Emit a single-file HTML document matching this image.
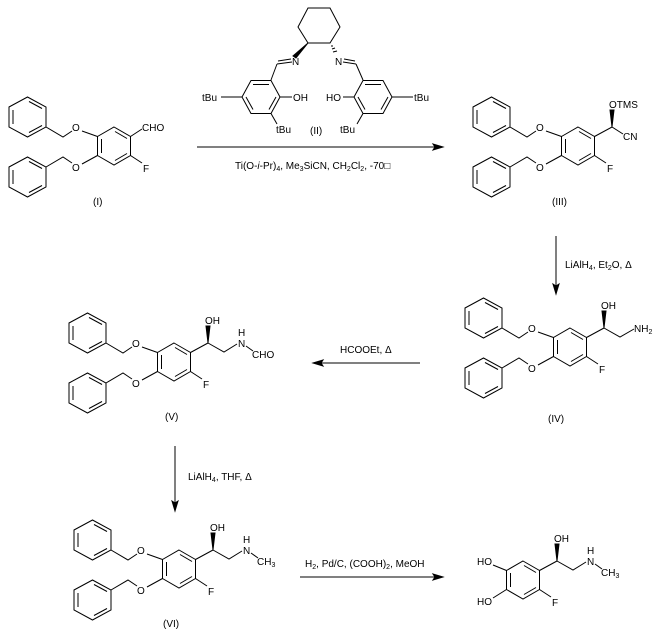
<!DOCTYPE html>
<html><head><meta charset="utf-8"><style>
html,body{margin:0;padding:0;background:#fff;}
svg{display:block;}
text{font-family:"Liberation Sans",Arial,sans-serif;font-size:10px;fill:#000;}
.s{font-size:7px;}
</style></head><body>
<svg width="656" height="633" viewBox="0 0 656 633" xmlns="http://www.w3.org/2000/svg">
<g stroke="#000" stroke-width="1" fill="none">

<!-- Compound I -->
<g transform="translate(0,0)">
<g stroke="#000" fill="none">
<polygon points="9,107 27.5,97 46,107 46,127 27.5,137 9,127"/>
<line x1="13" y1="110" x2="13" y2="124"/><line x1="29" y1="101.5" x2="42" y2="108.5"/><line x1="42" y1="125.5" x2="29" y2="132.5"/>
<polyline points="46,127 63,137 72,131"/>
<polygon points="9,167 27.5,157 46,167 46,187 27.5,197 9,187"/>
<line x1="13" y1="170" x2="13" y2="184"/><line x1="29" y1="161.5" x2="42" y2="168.5"/><line x1="42" y1="185.5" x2="29" y2="192.5"/>
<polyline points="46,167 63,157 72,163"/>
<polygon points="114,127 130.5,136.5 130.5,155.5 114,165 97.5,155.5 97.5,136.5"/>
<line x1="101.5" y1="139" x2="101.5" y2="153"/><line x1="115" y1="131.5" x2="127" y2="138.5"/><line x1="127" y1="153.5" x2="115" y2="160.5"/>
<line x1="82" y1="131" x2="97.5" y2="136.5"/><line x1="82" y1="164" x2="97.5" y2="155.5"/>
<line x1="130.5" y1="155.5" x2="142" y2="163"/>
<line x1="130.5" y1="136.5" x2="142" y2="129"/>
</g>
<g stroke="none"><text x="72" y="131">O</text><text x="72" y="171">O</text><text x="143" y="172">F</text><text x="142" y="131">CHO</text></g>
</g>
<text x="93" y="205" stroke="none">(I)</text>

<!-- Catalyst II -->
<polygon points="308,8 330,8 340,27 330,43 308,43 298,27"/>
<polygon points="308,43 293,56 296,58" fill="#000"/>
<g stroke-width="1">
<line x1="331" y1="46" x2="333" y2="46"/><line x1="332" y1="49" x2="335" y2="48"/><line x1="333" y1="52" x2="337" y2="51"/>
</g>
<line x1="292" y1="62" x2="277" y2="64"/><line x1="291" y1="59" x2="278" y2="61"/>
<line x1="277" y1="64" x2="271" y2="80"/>
<polygon points="242,97 251,80.5 271,80.5 280,97 271,113.5 251,113.5"/>
<line x1="253" y1="84.5" x2="269" y2="84.5"/><line x1="276" y1="97" x2="269" y2="109.5"/><line x1="246" y1="97" x2="253" y2="109.5"/>
<line x1="280" y1="97" x2="292" y2="97"/>
<line x1="242" y1="97" x2="221" y2="97"/>
<line x1="271" y1="113.5" x2="277" y2="124"/>
<line x1="343" y1="62" x2="356" y2="64"/><line x1="344" y1="59" x2="355" y2="61"/>
<line x1="356" y1="64" x2="363" y2="80"/>
<polygon points="354,97 363,80.5 383,80.5 392,97 383,113.5 363,113.5"/>
<line x1="365" y1="84.5" x2="381" y2="84.5"/><line x1="358" y1="97" x2="365" y2="109.5"/><line x1="388" y1="97" x2="381" y2="109.5"/>
<line x1="354" y1="97" x2="343" y2="97"/>
<line x1="392" y1="97" x2="413" y2="97"/>
<line x1="363" y1="113.5" x2="357" y2="124"/>
<g stroke="none">
<text x="292" y="65">N</text><text x="335" y="65">N</text>
<text x="293" y="101">OH</text><text x="326" y="101">HO</text>
<text x="202" y="101">tBu</text><text x="414" y="101">tBu</text>
<text x="276" y="133">tBu</text><text x="340" y="133">tBu</text>
<text x="310" y="134">(II)</text>
</g>

<!-- arrow I->III -->
<line x1="197" y1="147" x2="437" y2="147"/>
<polygon points="443,147 433,144 435,147 433,150" fill="#000"/>
<text x="235" y="169" stroke="none" font-size="9">Ti(O-<tspan font-style="italic">i</tspan>-Pr)<tspan class="s" dy="2">4</tspan><tspan dy="-2">, Me</tspan><tspan class="s" dy="2">3</tspan><tspan dy="-2">SiCN, CH</tspan><tspan class="s" dy="2">2</tspan><tspan dy="-2">Cl</tspan><tspan class="s" dy="2">2</tspan><tspan dy="-2">, -70□</tspan></text>

<!-- Compound III -->
<g transform="translate(464,0)">
<g stroke="#000" fill="none">
<polygon points="9,107 27.5,97 46,107 46,127 27.5,137 9,127"/>
<line x1="13" y1="110" x2="13" y2="124"/><line x1="29" y1="101.5" x2="42" y2="108.5"/><line x1="42" y1="125.5" x2="29" y2="132.5"/>
<polyline points="46,127 63,137 72,131"/>
<polygon points="9,167 27.5,157 46,167 46,187 27.5,197 9,187"/>
<line x1="13" y1="170" x2="13" y2="184"/><line x1="29" y1="161.5" x2="42" y2="168.5"/><line x1="42" y1="185.5" x2="29" y2="192.5"/>
<polyline points="46,167 63,157 72,163"/>
<polygon points="114,127 130.5,136.5 130.5,155.5 114,165 97.5,155.5 97.5,136.5"/>
<line x1="101.5" y1="139" x2="101.5" y2="153"/><line x1="115" y1="131.5" x2="127" y2="138.5"/><line x1="127" y1="153.5" x2="115" y2="160.5"/>
<line x1="82" y1="131" x2="97.5" y2="136.5"/><line x1="82" y1="164" x2="97.5" y2="155.5"/>
<line x1="130.5" y1="155.5" x2="142" y2="163"/>
<line x1="130.5" y1="136.5" x2="148" y2="127"/>
<polygon points="148,127 146,110 150,110" fill="#000"/>
<line x1="148" y1="127" x2="159" y2="134"/>
</g>
<g stroke="none"><text x="72" y="131">O</text><text x="72" y="171">O</text><text x="143" y="172">F</text><text x="145" y="108">OTMS</text><text x="159" y="140">CN</text></g>
</g>
<text x="552" y="205" stroke="none">(III)</text>

<!-- arrow III->IV -->
<line x1="556" y1="236" x2="556" y2="288"/>
<polygon points="556,294 553,284 556,286 559,284" fill="#000"/>
<text x="565" y="268" stroke="none" font-size="9">LiAlH<tspan class="s" dy="2">4</tspan><tspan dy="-2">, Et</tspan><tspan class="s" dy="2">2</tspan><tspan dy="-2">O, Δ</tspan></text>

<!-- Compound IV -->
<g transform="translate(456,201)">
<g stroke="#000" fill="none">
<polygon points="9,107 27.5,97 46,107 46,127 27.5,137 9,127"/>
<line x1="13" y1="110" x2="13" y2="124"/><line x1="29" y1="101.5" x2="42" y2="108.5"/><line x1="42" y1="125.5" x2="29" y2="132.5"/>
<polyline points="46,127 63,137 72,131"/>
<polygon points="9,167 27.5,157 46,167 46,187 27.5,197 9,187"/>
<line x1="13" y1="170" x2="13" y2="184"/><line x1="29" y1="161.5" x2="42" y2="168.5"/><line x1="42" y1="185.5" x2="29" y2="192.5"/>
<polyline points="46,167 63,157 72,163"/>
<polygon points="114,127 130.5,136.5 130.5,155.5 114,165 97.5,155.5 97.5,136.5"/>
<line x1="101.5" y1="139" x2="101.5" y2="153"/><line x1="115" y1="131.5" x2="127" y2="138.5"/><line x1="127" y1="153.5" x2="115" y2="160.5"/>
<line x1="82" y1="131" x2="97.5" y2="136.5"/><line x1="82" y1="164" x2="97.5" y2="155.5"/>
<line x1="130.5" y1="155.5" x2="142" y2="163"/>
<line x1="130.5" y1="136.5" x2="148" y2="127"/>
<polygon points="148,127 146,110 150,110" fill="#000"/>
<polyline points="148,127 164,136 178,128"/>
</g>
<g stroke="none"><text x="72" y="131">O</text><text x="72" y="171">O</text><text x="143" y="172">F</text><text x="145" y="108">OH</text><text x="178" y="131">NH<tspan class="s" dy="2">2</tspan></text></g>
</g>
<text x="548" y="422" stroke="none">(IV)</text>

<!-- arrow IV->V -->
<line x1="420" y1="363" x2="319" y2="363"/>
<polygon points="313,363 323,360 321,363 323,366" fill="#000"/>
<text x="340" y="353" stroke="none" font-size="9">HCOOEt, Δ</text>

<!-- Compound V -->
<g transform="translate(60,216)">
<g stroke="#000" fill="none">
<polygon points="9,107 27.5,97 46,107 46,127 27.5,137 9,127"/>
<line x1="13" y1="110" x2="13" y2="124"/><line x1="29" y1="101.5" x2="42" y2="108.5"/><line x1="42" y1="125.5" x2="29" y2="132.5"/>
<polyline points="46,127 63,137 72,131"/>
<polygon points="9,167 27.5,157 46,167 46,187 27.5,197 9,187"/>
<line x1="13" y1="170" x2="13" y2="184"/><line x1="29" y1="161.5" x2="42" y2="168.5"/><line x1="42" y1="185.5" x2="29" y2="192.5"/>
<polyline points="46,167 63,157 72,163"/>
<polygon points="114,127 130.5,136.5 130.5,155.5 114,165 97.5,155.5 97.5,136.5"/>
<line x1="101.5" y1="139" x2="101.5" y2="153"/><line x1="115" y1="131.5" x2="127" y2="138.5"/><line x1="127" y1="153.5" x2="115" y2="160.5"/>
<line x1="82" y1="131" x2="97.5" y2="136.5"/><line x1="82" y1="164" x2="97.5" y2="155.5"/>
<line x1="130.5" y1="155.5" x2="142" y2="163"/>
<line x1="130.5" y1="136.5" x2="148" y2="127"/>
<polygon points="148,127 146,110 150,110" fill="#000"/>
<polyline points="148,127 164,136 177,128"/>
<line x1="186" y1="130" x2="193" y2="135"/>
</g>
<g stroke="none"><text x="72" y="131">O</text><text x="72" y="171">O</text><text x="143" y="172">F</text><text x="145" y="108">OH</text><text x="178" y="120">H</text><text x="178" y="131">N</text><text x="192" y="142">CHO</text></g>
</g>
<text x="165" y="420" stroke="none">(V)</text>

<!-- arrow V->VI -->
<line x1="175" y1="446" x2="175" y2="505"/>
<polygon points="175,511 172,501 175,503 178,501" fill="#000"/>
<text x="188" y="480" stroke="none" font-size="9">LiAlH<tspan class="s" dy="2">4</tspan><tspan dy="-2">, THF, Δ</tspan></text>

<!-- Compound VI -->
<g transform="translate(65,423)">
<g stroke="#000" fill="none">
<polygon points="9,107 27.5,97 46,107 46,127 27.5,137 9,127"/>
<line x1="13" y1="110" x2="13" y2="124"/><line x1="29" y1="101.5" x2="42" y2="108.5"/><line x1="42" y1="125.5" x2="29" y2="132.5"/>
<polyline points="46,127 63,137 72,131"/>
<polygon points="9,167 27.5,157 46,167 46,187 27.5,197 9,187"/>
<line x1="13" y1="170" x2="13" y2="184"/><line x1="29" y1="161.5" x2="42" y2="168.5"/><line x1="42" y1="185.5" x2="29" y2="192.5"/>
<polyline points="46,167 63,157 72,163"/>
<polygon points="114,127 130.5,136.5 130.5,155.5 114,165 97.5,155.5 97.5,136.5"/>
<line x1="101.5" y1="139" x2="101.5" y2="153"/><line x1="115" y1="131.5" x2="127" y2="138.5"/><line x1="127" y1="153.5" x2="115" y2="160.5"/>
<line x1="82" y1="131" x2="97.5" y2="136.5"/><line x1="82" y1="164" x2="97.5" y2="155.5"/>
<line x1="130.5" y1="155.5" x2="142" y2="163"/>
<line x1="130.5" y1="136.5" x2="148" y2="127"/>
<polygon points="148,127 146,110 150,110" fill="#000"/>
<polyline points="148,127 164,136 177,128"/>
<line x1="186" y1="130" x2="193" y2="135"/>
</g>
<g stroke="none"><text x="72" y="131">O</text><text x="72" y="171">O</text><text x="143" y="172">F</text><text x="145" y="108">OH</text><text x="178" y="120">H</text><text x="178" y="131">N</text><text x="192" y="142">CH<tspan class="s" dy="2">3</tspan></text></g>
</g>
<text x="163" y="627" stroke="none">(VI)</text>

<!-- arrow VI->final -->
<line x1="300" y1="577" x2="437" y2="577"/>
<polygon points="443,577 433,574 435,577 433,580" fill="#000"/>
<text x="305" y="567" stroke="none" font-size="9">H<tspan class="s" dy="2">2</tspan><tspan dy="-2">, Pd/C, (COOH)</tspan><tspan class="s" dy="2">2</tspan><tspan dy="-2">, MeOH</tspan></text>

<!-- Final product -->
<g transform="translate(409,434)">
<g stroke="#000" fill="none">
<polygon points="114,127 130.5,136.5 130.5,155.5 114,165 97.5,155.5 97.5,136.5"/>
<line x1="101.5" y1="139" x2="101.5" y2="153"/><line x1="115" y1="131.5" x2="127" y2="138.5"/><line x1="127" y1="153.5" x2="115" y2="160.5"/>
<line x1="84" y1="131" x2="97.5" y2="136.5"/><line x1="84" y1="164" x2="97.5" y2="155.5"/>
<line x1="130.5" y1="155.5" x2="142" y2="163"/>
<line x1="130.5" y1="136.5" x2="148" y2="127"/>
<polygon points="148,127 146,110 150,110" fill="#000"/>
<polyline points="148,127 164,136 177,128"/>
<line x1="186" y1="130" x2="193" y2="135"/>
</g>
<g stroke="none"><text x="83" y="131" text-anchor="end">HO</text><text x="83" y="171" text-anchor="end">HO</text><text x="143" y="172">F</text><text x="145" y="108">OH</text><text x="178" y="120">H</text><text x="178" y="131">N</text><text x="192" y="142">CH<tspan class="s" dy="2">3</tspan></text></g>
</g>

</g>
</svg>
</body></html>
